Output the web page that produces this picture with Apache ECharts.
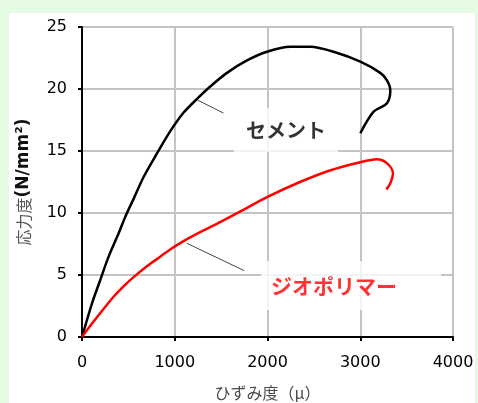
<!DOCTYPE html>
<html>
<head>
<meta charset="utf-8">
<script src="https://cdn.jsdelivr.net/npm/echarts@6/dist/echarts.min.js"></script>
<style>
  html, body { margin: 0; padding: 0; background: #e6fbe4; }
  #panel { position: absolute; left: 9px; top: 13px; width: 466px; height: 390px; background: #ffffff; }
  #chart { position: absolute; left: 0; top: 0; width: 478px; height: 403px; }
</style>
</head>
<body>
<div id="panel"></div>
<div id="chart"></div>
<script>
// Strain (μ) and stress (N/mm²) for the cement specimen
const cementStrain = [0, 108, 197, 287, 395, 467, 560, 664, 808, 952, 1096, 1240, 1383, 1563, 1779, 1995, 2246, 2461, 2713, 3001, 3216, 3288, 3324, 3288, 3144, 3001];
const cementStress = [0, 2.72, 4.60, 6.48, 8.36, 9.70, 11.20, 12.90, 14.80, 16.60, 18.10, 19.20, 20.20, 21.30, 22.30, 23.00, 23.40, 23.40, 23.00, 22.20, 21.30, 20.70, 19.90, 18.85, 18.17, 16.43];

// Strain (μ) and stress (N/mm²) for the geopolymer specimen
const geoStrain = [0, 100, 200, 340, 470, 560, 700, 810, 950, 1100, 1300, 1500, 1750, 2000, 2350, 2680, 3000, 3180, 3290, 3353, 3324, 3281];
const geoStress = [0, 1.00, 1.95, 3.25, 4.25, 4.85, 5.70, 6.30, 7.05, 7.75, 8.55, 9.30, 10.30, 11.30, 12.50, 13.45, 14.10, 14.33, 14.00, 13.20, 12.40, 11.90];

// Callout leader lines (strain, stress)
const cementLeader = [[1245, 19.11], [1525, 18.06]];
const geoLeader = [[1129, 7.56], [1750, 5.35]];

// Callout text and anchor
const cementName = 'セメント';
const geoName = 'ジオポリマー';
const cementLabelAt = [2200, 16.7];
const geoLabelAt = [2900, 4.15];

// Axis ranges
const xMin = 0, xMax = 4000, xStep = 1000;
const yMin = 0, yMax = 25, yStep = 5;

const pair = (xs, ys) => xs.map((x, i) => [x, ys[i]]);

const chart = echarts.init(document.getElementById('chart'), null, { renderer: 'canvas' });

const numFont = { fontFamily: 'DejaVu Sans', fontSize: 16, color: '#000' };

chart.setOption({
  backgroundColor: 'transparent',
  animation: false,
  grid: { left: 82, right: 25, top: 27, bottom: 66, containLabel: false, outerBoundsMode: 'none' },
  xAxis: {
    type: 'value', min: xMin, max: xMax, interval: xStep,
    name: 'ひずみ度（μ）',
    nameLocation: 'middle', nameGap: 48,
    nameTextStyle: { fontFamily: 'Noto Sans CJK JP', fontSize: 16, color: '#4a4a4a' },
    axisLine: { show: true, onZero: false, lineStyle: { color: '#000', width: 2 } },
    axisTick: { show: true, length: 4, lineStyle: { color: '#000', width: 2 } },
    axisLabel: Object.assign({ margin: 18, formatter: v => String(v) }, numFont),
    splitLine: { show: true, lineStyle: { color: '#c4c4c4', width: 2 } }
  },
  yAxis: {
    type: 'value', min: yMin, max: yMax, interval: yStep,
    name: '{a|応力度}{b|(N/mm²)}',
    nameLocation: 'middle', nameGap: 50, nameRotate: 90,
    nameTextStyle: {
      rich: {
        a: { fontFamily: 'Noto Sans CJK JP', fontSize: 16, color: '#555' },
        b: { fontFamily: 'DejaVu Sans', fontWeight: 'bold', fontSize: 17, color: '#111' }
      }
    },
    axisLine: { show: true, onZero: false, lineStyle: { color: '#000', width: 2 } },
    axisTick: { show: true, length: 4, lineStyle: { color: '#000', width: 2 } },
    axisLabel: Object.assign({ margin: 15 }, numFont),
    splitLine: { show: true, lineStyle: { color: '#c4c4c4', width: 2 } }
  },
  series: [
    {
      type: 'line', data: pair(cementStrain, cementStress),
      showSymbol: false, smooth: 0.3,
      lineStyle: { color: '#000', width: 2.5 }, z: 5
    },
    {
      type: 'line', data: pair(geoStrain, geoStress),
      showSymbol: false, smooth: 0.3,
      lineStyle: { color: '#ff0000', width: 2.5 }, z: 5
    },
    {
      type: 'line', data: cementLeader, showSymbol: false,
      lineStyle: { color: '#444', width: 1 }, z: 4
    },
    {
      type: 'line', data: geoLeader, showSymbol: false,
      lineStyle: { color: '#444', width: 1 }, z: 4
    },
    {
      type: 'scatter', symbolSize: 0, z: 3,
      data: [{ value: cementLabelAt, name: cementName }],
      label: {
        show: true, position: 'inside', formatter: '{b}',
        fontFamily: 'Noto Sans CJK JP', fontWeight: 'bold', fontSize: 20, color: '#000',
        backgroundColor: '#fff', padding: [12, 12, 12, 12]
      }
    },
    {
      type: 'scatter', symbolSize: 0, z: 3,
      data: [{ value: geoLabelAt, name: geoName }],
      label: {
        show: true, position: 'inside', formatter: '{b}',
        fontFamily: 'Noto Sans CJK JP', fontWeight: 'bold', fontSize: 21, color: '#ff0000',
        backgroundColor: '#fff', padding: [14, 44, 14, 10]
      }
    }
  ]
});
</script>
</body>
</html>
